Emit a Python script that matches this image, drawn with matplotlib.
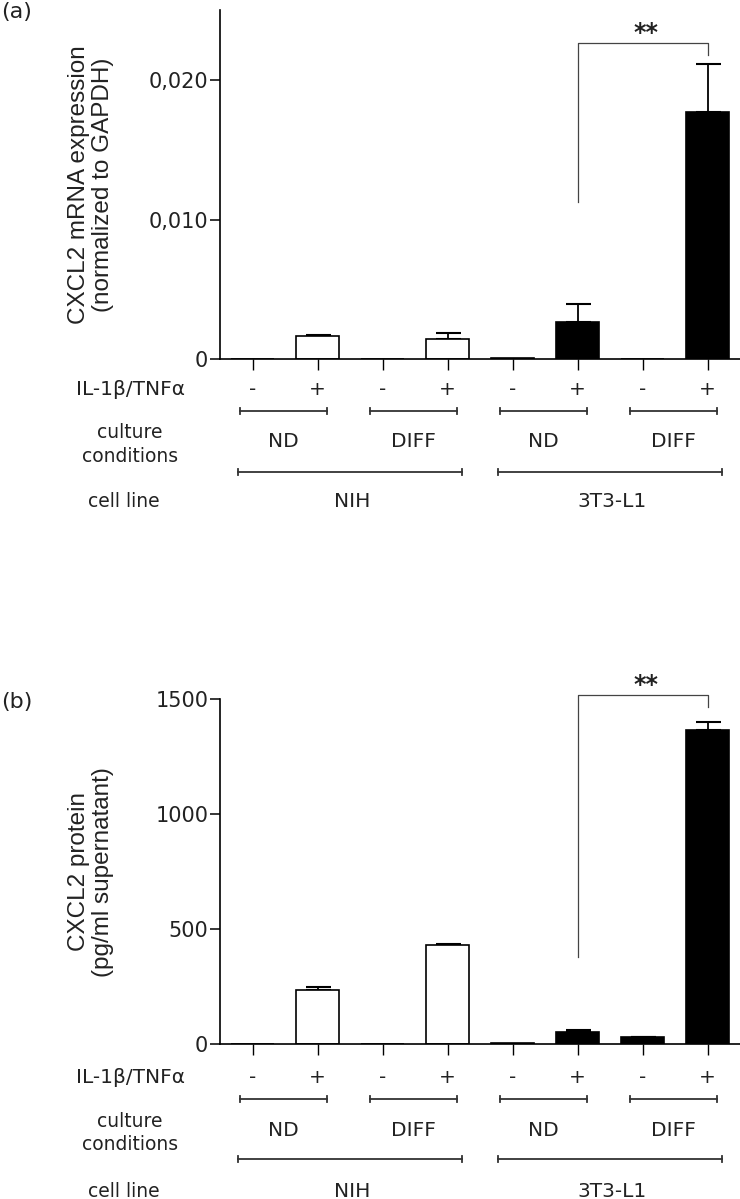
import matplotlib
matplotlib.use("Agg")
import matplotlib.pyplot as plt
import numpy as np

# data
x = np.arange(8)
treatment = ['-', '+', '-', '+', '-', '+', '-', '+']
conditions = ['ND', 'DIFF', 'ND', 'DIFF']
cell_lines = ['NIH', '3T3-L1']
bar_colors = ['white'] * 4 + ['black'] * 4

mrna_mean = [0, 0.00165, 0, 0.00146, 0.0001, 0.00263, 0, 0.01773]
mrna_err = [0, 0.00007, 0, 0.0004, 0, 0.00134, 0, 0.00339]

protein_mean = [0, 236, 0, 432, 4, 55, 30, 1367]
protein_err = [0, 15, 0, 4, 0, 9, 3, 33]

W, H = 740, 1199
fig = plt.figure(figsize=(W / 100, H / 100), dpi=100)

SANS = ['DejaVu Sans']
LAB = ['Liberation Sans', 'DejaVu Sans']


def fy(ypx):
    return 1 - ypx / H


def panel(top, bottom, means, errs, ylim, yticks, yticklabels, ylabel, tag, tag_y,
          star_y, brk_y, brk_left, brk_right, offs):
    ax = fig.add_axes([220 / W, fy(bottom), 520 / W, (bottom - top) / H])
    ax.bar(x, means, width=0.67, color=bar_colors, edgecolor='black', linewidth=1.2, zorder=2)
    errs = np.array(errs)
    m = errs > 0
    ax.errorbar(x[m], np.array(means)[m], yerr=[np.zeros(m.sum()), errs[m]], fmt='none',
                ecolor='black', elinewidth=1.3, capsize=9, capthick=1.5, zorder=1)
    ax.set_xlim(-0.5, 7.5)
    ax.set_ylim(*ylim)
    ax.set_yticks(yticks)
    ax.set_yticklabels(yticklabels, family=SANS, fontsize=15, color='#222222')
    ax.set_xticks(x)
    ax.tick_params(axis='x', length=8, width=1.0, direction='out', labelbottom=False)
    ax.tick_params(axis='y', length=7, width=1.1, direction='out', pad=1.5)
    for s in ['top', 'right']:
        ax.spines[s].set_visible(False)
    for s in ['left', 'bottom']:
        ax.spines[s].set_linewidth(1.2)

    # significance bracket
    ax.plot([5, 5, 7, 7], [brk_left, brk_y, brk_y, brk_right], color='#444444', lw=0.9,
            clip_on=False)
    ax.text(6.05, star_y, '**', ha='center', va='center', fontsize=17, fontweight='bold',
            family=SANS, color='#222222', clip_on=False)

    # y label and panel tag
    fig.text(91 / W, fy((top + bottom) / 2), ylabel, rotation=90, ha='center', va='center',
             multialignment='center', fontsize=17.5, family=LAB, linespacing=1.15,
             color='#222222')
    fig.text(0.002, fy(tag_y), tag, ha='left', va='center', fontsize=16, family=SANS,
             color='#222222')

    # rows of condition labels under the axis
    tr = matplotlib.transforms.blended_transform_factory(ax.transData, fig.transFigure)
    il, short, cond, long_, cell, cult1, cult2 = [bottom + o for o in offs]
    fig.text(130 / W, fy(il), 'IL-1β/TNFα', ha='center', va='center', fontsize=14.5,
             family=SANS, color='#222222')
    fig.text(130 / W, fy(cult1), 'culture', ha='center', va='center', fontsize=13.5,
             family=SANS, color='#222222')
    fig.text(130 / W, fy(cult2), 'conditions', ha='center', va='center', fontsize=13.5,
             family=SANS, color='#222222')
    fig.text(124 / W, fy(cell), 'cell line', ha='center', va='center', fontsize=13.5,
             family=SANS, color='#222222')
    for xi, t in zip(x, treatment):
        ax.text(xi, fy(il), t, transform=tr, ha='center', va='center', fontsize=14.5,
                family=SANS, color='#222222')
    cap = 3 / H
    for i, c in enumerate(conditions):
        c0, c1 = 2 * i - 0.2, 2 * i + 1.15
        ax.plot([c0, c1], [fy(short)] * 2, transform=tr, color='#333333', lw=1.3,
                clip_on=False)
        for cx in (c0, c1):
            ax.plot([cx, cx], [fy(short) - cap, fy(short) + cap], transform=tr,
                    color='#333333', lw=1.3, clip_on=False)
        ax.text(2 * i + 0.47, fy(cond), c, transform=tr, ha='center', va='center',
                fontsize=14.5, family=SANS, color='#222222')
    for i, c in enumerate(cell_lines):
        c0, c1 = 4 * i - 0.23, 4 * i + 3.23
        ax.plot([c0, c1], [fy(long_)] * 2, transform=tr, color='#333333', lw=1.3,
                clip_on=False)
        for cx in (c0, c1):
            ax.plot([cx, cx], [fy(long_) - cap, fy(long_) + cap], transform=tr,
                    color='#333333', lw=1.3, clip_on=False)
        ax.text(4 * i + 1.53, fy(cell), c, transform=tr, ha='center', va='center',
                fontsize=14.5, family=SANS, color='#222222')
    return ax


panel(10.25, 359, mrna_mean, mrna_err, (0, 0.025), [0, 0.01, 0.02], ['0', '0,010', '0,020'],
      'CXCL2 mRNA expression\n(normalized to GAPDH)', '(a)', 12,
      0.0234, 0.02268, 0.01128, 0.0218,
      [31, 51.7, 82.7, 112.7, 142.7, 74, 97])

panel(699.3, 1044.3, protein_mean, protein_err, (0, 1500), [0, 500, 1000, 1500],
      ['0', '500', '1000', '1500'],
      'CXCL2 protein\n(pg/ml supernatant)', '(b)', 702,
      1563, 1519, 381, 1468,
      [33.4, 55, 85.7, 115, 147.4, 77.4, 100])

fig.savefig('out.png', dpi=100)
